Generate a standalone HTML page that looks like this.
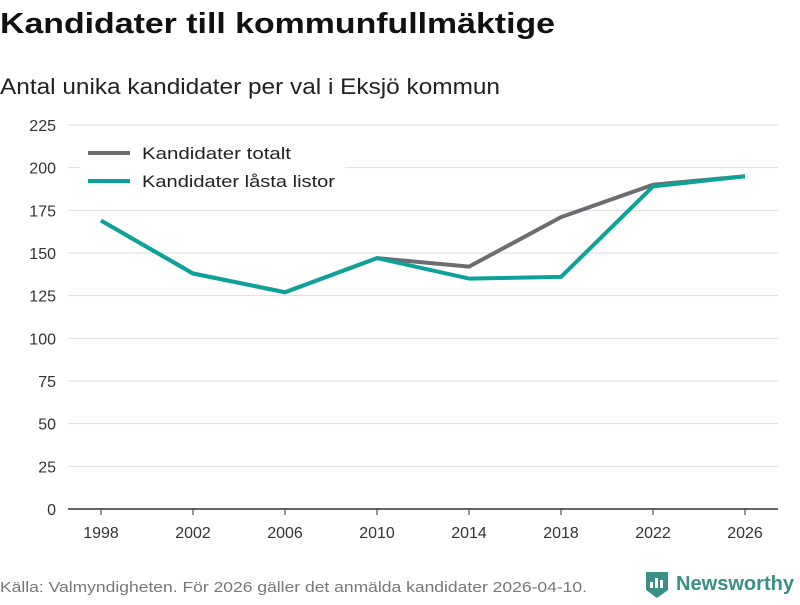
<!DOCTYPE html>
<html><head><meta charset="utf-8"><style>
body{margin:0;width:800px;height:600px;background:#fff;font-family:"Liberation Sans","DejaVu Sans",sans-serif;overflow:hidden}
</style></head><body>
<svg width="800" height="600" xmlns="http://www.w3.org/2000/svg">
<text x="0" y="33" font-size="29" font-weight="bold" fill="#111" textLength="555" lengthAdjust="spacingAndGlyphs">Kandidater till kommunfullmäktige</text>
<text x="0" y="94" font-size="22" fill="#222" textLength="500" lengthAdjust="spacingAndGlyphs">Antal unika kandidater per val i Eksjö kommun</text>
<g id="grid"></g><g id="xt"></g><g id="lines"></g>
<g>
<rect x="80" y="138" width="265" height="60" fill="#fff"/>
<line x1="88" y1="153" x2="130" y2="153" stroke="#6d6c70" stroke-width="4"/>
<text x="142" y="159" font-size="17" fill="#222" textLength="149" lengthAdjust="spacingAndGlyphs">Kandidater totalt</text>
<line x1="88" y1="181" x2="130" y2="181" stroke="#0ba29a" stroke-width="4"/>
<text x="142" y="187" font-size="17" fill="#222" textLength="193" lengthAdjust="spacingAndGlyphs">Kandidater låsta listor</text>
</g>
<text x="0" y="592" font-size="15" fill="#777" textLength="587" lengthAdjust="spacingAndGlyphs">Källa: Valmyndigheten. För 2026 gäller det anmälda kandidater 2026-04-10.</text>
<g>
<path d="M646 572h22v18l-11 8l-11-8z" fill="#3a8f86"/>
<rect x="650" y="582" width="3" height="6" fill="#fff"/><rect x="655" y="578" width="3" height="10" fill="#fff"/><rect x="660" y="580" width="3" height="8" fill="#fff"/>
<text x="676" y="590" font-size="20" font-weight="bold" fill="#3a8f86" textLength="118" lengthAdjust="spacingAndGlyphs">Newsworthy</text>
</g>
</svg>
<script>
const years=[1998,2002,2006,2010,2014,2018,2022,2026];
const totalt=[169,138,127,147,142,171,190,195];
const lasta=[169,138,127,147,135,136,189,195];
const yTicks=[0,25,50,75,100,125,150,175,200,225];
const NS="http://www.w3.org/2000/svg";
const x=y=>101+(y-1998)*(644/28);
const yv=v=>509-v*(384/225);
function mk(t,a,p){const e=document.createElementNS(NS,t);for(const k in a)e.setAttribute(k,a[k]);p.appendChild(e);return e;}
const g=document.getElementById('grid');
yTicks.forEach(v=>{
 const l=mk('line',{x1:68,x2:778,y1:yv(v),y2:yv(v),stroke:v===0?'#333':'#ddd','stroke-width':v===0?1.5:1},g);
 
 
 const t=mk('text',{x:56,y:yv(v)+6,'font-size':16,fill:'#333','text-anchor':'end'},g);t.textContent=v;
 
 
});
const xt=document.getElementById('xt');
years.forEach(y=>{
 mk('line',{x1:x(y),x2:x(y),y1:509,y2:515,stroke:'#333'},xt);
 const t=mk('text',{x:x(y),y:538,'font-size':16,fill:'#333','text-anchor':'middle'},xt);t.textContent=y;
 
 
});
const L=document.getElementById('lines');
[[totalt,'#6d6c70','line-totalt'],[lasta,'#0ba29a','line-lasta']].forEach(([d,c,n])=>{
 const p=mk('polyline',{points:d.map((v,i)=>x(years[i])+','+yv(v)).join(' '),fill:'none',stroke:c,'stroke-width':4,'stroke-linejoin':'round'},L);
 
 
});
</script>
</body></html>
